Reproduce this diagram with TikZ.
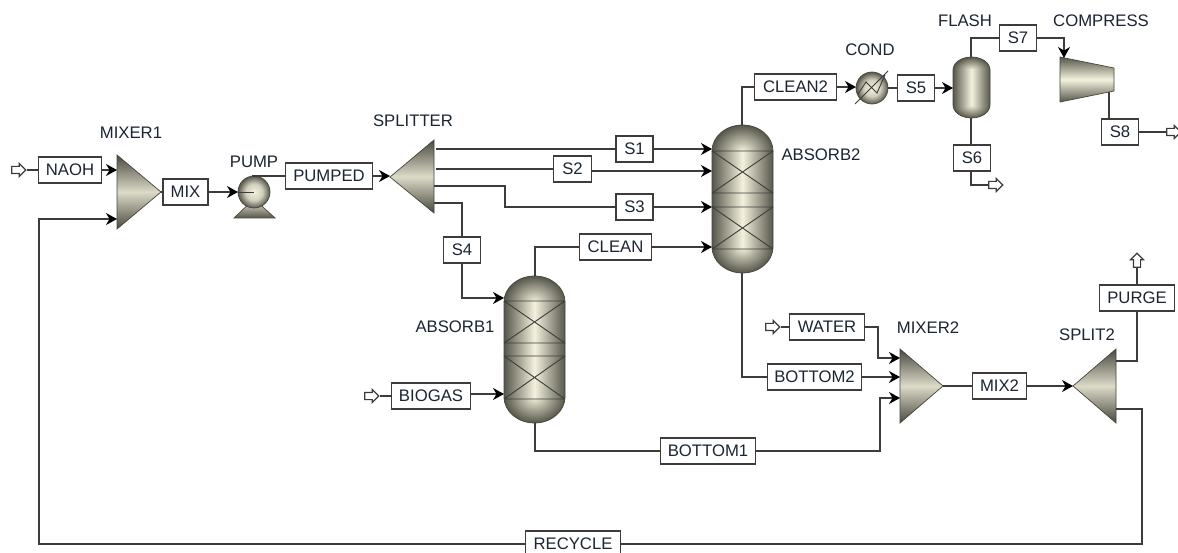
\documentclass[tikz,border=0pt]{standalone}
\usepackage{fontspec}
\setmainfont{Liberation Sans}
\usetikzlibrary{arrows.meta,shapes.arrows}
\definecolor{unitdark}{HTML}{56564A}
\definecolor{unitlight}{HTML}{F4F2DE}
\definecolor{pipegray}{HTML}{3C3C3C}
\definecolor{labelink}{HTML}{1B2533}
\pgfdeclareradialshading{unitball}{\pgfpoint{0bp}{0bp}}{%
  color(0bp)=(unitlight); color(13bp)=(unitlight!78!unitdark); color(25bp)=(unitdark); color(50bp)=(unitdark)}
\tikzset{
  pipeline/.style  = {pipegray,line width=1.4pt},
  pipearr/.style   = {pipeline,-{Stealth[length=11pt,width=12pt,inset=3.5pt,black]}},
  streambox/.style = {draw=pipegray,fill=white,line width=1.4pt,inner sep=0pt,minimum height=26pt,
                      font=\fontsize{16.7}{18}\selectfont,text=labelink},
  unitlabel/.style = {inner sep=0pt,font=\fontsize{16.7}{18}\selectfont,text=labelink},
  feedarr/.style   = {single arrow,draw=pipegray,fill=white,line width=1.2pt,inner xsep=0pt,inner ysep=3pt,
                      minimum height=14pt,minimum width=12pt,single arrow head extend=3pt},
  unitedge/.style  = {draw=unitdark!80!black,line width=0.7pt}
}
\newcommand{\tritank}[6]{%
  \shade[top color=unitdark!85!black,bottom color=unitdark!85!black,middle color=unitlight!85!unitdark,unitedge]
    (#1,#2) -- (#3,#4) -- (#5,#6) -- cycle;
}
\newcommand{\vessel}[5]{%
  \shade[inner color=unitlight,outer color=unitdark] (#1,#3+#5) ellipse [x radius=#2pt,y radius=#5pt];
  \shade[inner color=unitlight,outer color=unitdark] (#1,#4-#5) ellipse [x radius=#2pt,y radius=#5pt];
  \shade[left color=unitdark,right color=unitdark,middle color=unitlight] (#1-#2,#3+#5) rectangle (#1+#2,#4-#5);
  \draw[unitedge] (#1-#2,#3+#5) arc [start angle=180,end angle=0,x radius=#2pt,y radius=#5pt]
    -- (#1+#2,#4-#5) arc [start angle=0,end angle=-180,x radius=#2pt,y radius=#5pt] -- cycle;
}
\newcommand{\packing}[4]{%
  \draw[pipegray,line width=0.9pt] (#1,#3) -- (#2,#3) (#1,#4) -- (#2,#4) (#1,#3) -- (#2,#4) (#1,#4) -- (#2,#3);
}
\begin{document}
\begin{tikzpicture}[x=1pt,y=-1pt]
  \useasboundingbox (0,0) rectangle (1178,553);
  \fill[white] (0,0) rectangle (1178,553);

  \tritank{117}{155}{161}{192}{117}{229}
  \tritank{434}{140}{390}{177}{434}{213}
  \tritank{900}{349}{943}{386}{900}{423}
  \tritank{1116}{349}{1073}{386}{1116}{423}
  \shade[top color=unitdark,bottom color=unitdark,middle color=unitlight,unitedge]
    (1060,57) -- (1114,68) -- (1114,91) -- (1060,102) -- cycle;

  \shade[top color=unitlight,bottom color=unitdark,unitedge] (254,199) -- (275,218) -- (234,218) -- cycle;
  \shade[shading=unitball,unitedge] (254,192) circle (16pt);
  \draw[pipegray,line width=0.9pt] (238,192) -- (254,192);

  \shade[shading=unitball,unitedge] (872,88) circle (16pt);
  \draw[pipegray,line width=0.9pt] (855,104) -- (888,71) (858,94) -- (866,82) -- (877,93) -- (885,75);

  \vessel{971.5}{18.5}{57}{118}{13}
  \vessel{534.5}{30.5}{276}{423}{26}
  \vessel{742.5}{30.5}{125}{273}{26}
  \packing{504}{565}{301}{343}
  \packing{504}{565}{356}{399}
  \packing{712}{773}{151}{193}
  \packing{712}{773}{207}{249}

  \foreach \portname/\px/\py in {
      mixeraN/117/170,mixeraS/117/219,mixeraO/161/192,
      pumpI/238/192,pumpO/252/176,
      splitI/390/176,splitA/436/149,splitB/436/169,splitC/434/186,splitD/434/203,
      colaT/535/276,colaB/535/423,colaU/504/298,colaL/504/394,
      colbT/742/125,colbB/742/273,colbA/712/149,colbC/712/171,colbD/712/207,colbE/712/247,
      condI/856/87,condO/888/88,
      flashI/953/88,flashT/971/57,flashB/971/118,
      compI/1064/58,compO/1109/92,
      mixerbA/900/358,mixerbB/900/377,mixerbC/900/398,mixerbO/943/386,
      splitbI/1073/386,splitbT/1116/361,splitbB/1116/409}
    \coordinate (\portname) at (\px,\py);

  \foreach \boxname/\boxtext/\bx/\by/\bw in {
      naoh/NAOH/70/170/63,mix/MIX/185.5/192/45,pumped/PUMPED/329/176/87,
      sa/S1/634.5/149/37,sb/S2/572.5/169/38,sc/S3/634.5/207/37,sd/S4/462/250/37,
      clean/CLEAN/615.5/247/72,biogas/BIOGAS/431/396/79,clean2/CLEAN2/795.5/87/82,
      se/S5/916/88/37,sf/S6/972/158/37,sg/S7/1018/38/37,sh/S8/1120/132/37,
      water/WATER/827/327/75,bottom2/BOTTOM2/814.5/377/94,bottom1/BOTTOM1/708/451/95,
      mix2/MIX2/999.5/386/54,purge/PURGE/1137/298/75,recycle/RECYCLE/573/544/95}
    \node[streambox,minimum width=\bw pt] (\boxname) at (\bx,\by) {\boxtext};

  \foreach \feedname/\fx/\fy/\frot in {
      feeda/17/170/0,feedb/370/396/0,feedc/771/327/0,
      outa/994/185/0,outb/1172/132/0,outc/1137/262/90}
    \node[feedarr,rotate=\frot] (\feedname) at (\fx,\fy) {};

  \draw[pipeline] (feeda.tip) -- (naoh.west);
  \draw[pipearr] (naoh.east) -- (mixeraN);
  \draw[pipeline] (mixeraO) -- (mix.west);
  \draw[pipearr] (mix.east) -- (pumpI);
  \draw[pipeline] (pumpO) -- (pumped.west);
  \draw[pipearr] (pumped.east) -- (splitI);
  \draw[pipeline] (splitA) -- (sa.west);
  \draw[pipearr] (sa.east) -- (colbA);
  \draw[pipeline] (splitB) -- (sb.west);
  \draw[pipearr] (sb.east |- colbC) -- (colbC);
  \draw[pipeline] (splitC) -- (505,186) -- (505,207) -- (sc.west);
  \draw[pipearr] (sc.east) -- (colbD);
  \draw[pipeline] (splitD) -- (sd.north |- splitD) -- (sd.north);
  \draw[pipearr] (sd.south) -- (sd.south |- colaU) -- (colaU);
  \draw[pipeline] (colaT) -- (colaT |- clean.west) -- (clean.west);
  \draw[pipearr] (clean.east) -- (colbE);
  \draw[pipeline] (feedb.tip) -- (biogas.west);
  \draw[pipearr] (biogas.east |- colaL) -- (colaL);
  \draw[pipeline] (colaB) -- (colaB |- bottom1.west) -- (bottom1.west);
  \draw[pipearr] (bottom1.east) -- (880,451) -- (880,398) -- (mixerbC);
  \draw[pipeline] (colbT) -- (colbT |- clean2.west) -- (clean2.west);
  \draw[pipearr] (clean2.east) -- (condI);
  \draw[pipeline] (condO) -- (se.west);
  \draw[pipearr] (se.east) -- (flashI);
  \draw[pipeline] (flashT) -- (flashT |- sg.west) -- (sg.west);
  \draw[pipearr] (sg.east) -- (compI |- sg.east) -- (compI);
  \draw[pipeline] (flashB) -- (flashB |- sf.north);
  \draw[pipeline] (sf.south -| flashB) -- (flashB |- outa.tail) -- (outa.tail);
  \draw[pipeline] (compO) -- (compO |- sh.north);
  \draw[pipeline] (sh.east) -- (outb.tail);
  \draw[pipeline] (colbB) -- (colbB |- bottom2.west) -- (bottom2.west);
  \draw[pipearr] (bottom2.east) -- (mixerbB);
  \draw[pipeline] (feedc.tip) -- (water.west);
  \draw[pipearr] (water.east) -- (878,327) -- (878,358) -- (mixerbA);
  \draw[pipeline] (mixerbO) -- (mix2.west);
  \draw[pipearr] (mix2.east) -- (splitbI);
  \draw[pipeline] (splitbT) -- (purge.south |- splitbT) -- (purge.south);
  \draw[pipeline] (purge.north) -- (outc.tail);
  \draw[pipeline] (splitbB) -- (1142,409) -- (1142,544) -- (recycle.east);
  \draw[pipearr] (recycle.west) -- (39,544) -- (39,219) -- (mixeraS);

  \foreach \unitname/\unittext/\ux/\uy in {
      lmixera/MIXER1/131/133,lpump/PUMP/254/162,lsplit/SPLITTER/413/121,
      lcolb/ABSORB2/821/155,lcola/ABSORB1/455/327,lcond/COND/870/50,
      lflash/FLASH/965/21,lcomp/COMPRESS/1101/21,lmixerb/MIXER2/928/328,lsplitb/SPLIT2/1087/335}
    \node[unitlabel] (\unitname) at (\ux,\uy) {\unittext};
\end{tikzpicture}
\end{document}
